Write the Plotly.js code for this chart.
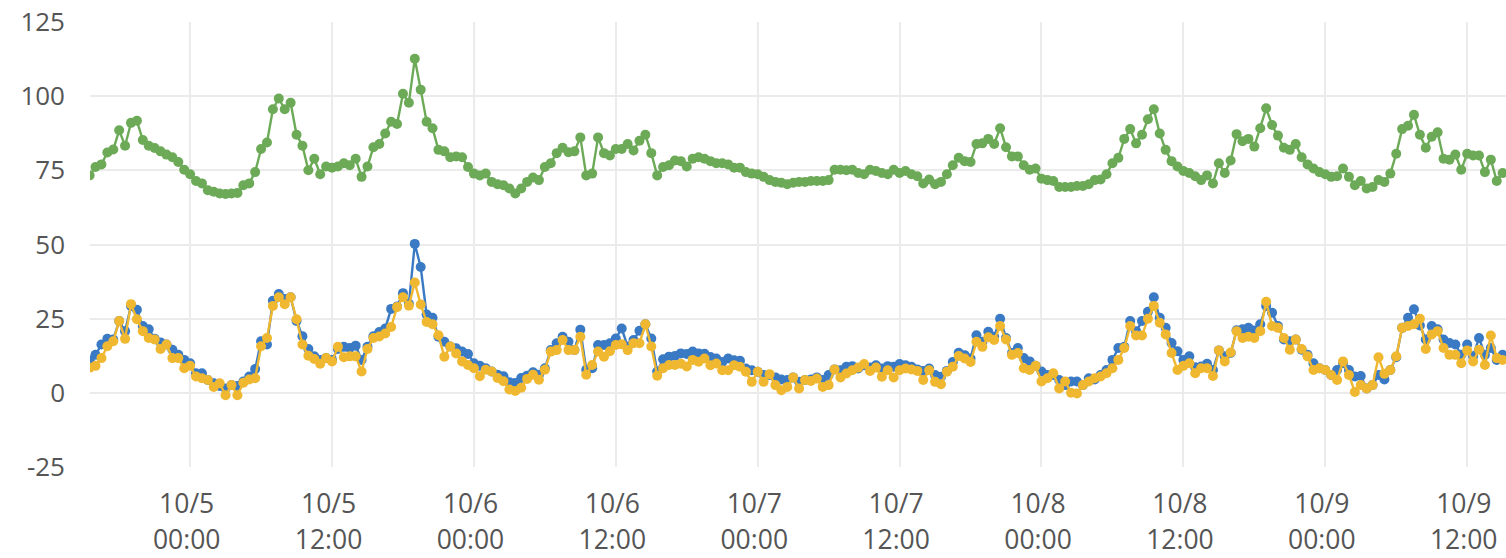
<!DOCTYPE html>
<html><head><meta charset="utf-8">
<script src="https://cdn.plot.ly/plotly-3.0.1.min.js"></script>
<style>html,body{margin:0;padding:0;background:#fff}#chart{width:1506px;height:558px}</style>
</head><body><div id="chart"></div>
<script>
// first sample 10/4 15:30, one sample every 30 minutes
const startTime = [2019, 9, 4, 15, 30];
const stepMinutes = 30;

const green = [
73.3,76.1,77,81,82,88.5,83.3,91,91.7,85.2,
83.3,82.5,81.4,80.3,79.4,77.8,75.2,73.7,71.4,70.6,
68.3,67.8,67.2,67,67.2,67.4,70,70.6,74.4,82.2,
84.4,95.6,99.2,95.6,97.8,87,83.3,75,78.9,73.7,
76.3,75.9,76.3,77.4,76.7,78.9,72.8,76.3,82.8,
83.9,87.4,91.4,90.6,100.8,97.8,112.6,102.2,91.4,89.2,81.9,
81.4,79.4,79.7,79.4,76.1,73.9,73.3,73.9,71.1,70.3,
70,68.9,67.2,68.9,71.1,72.6,71.7,76.1,77.4,80.8,
82.6,81.1,81.4,86.1,73.3,73.9,86.1,80.8,80,82.2,
82.2,83.9,81.7,85,87,80.8,73.3,
76.1,76.7,78.3,
78.1,76.3,78.9,79.4,78.9,78.1,77.4,77.4,77,75.9,
75.9,74.4,73.9,73.7,72.8,71.7,71.1,70.8,70.3,70.8,
71.1,71.1,71.4,71.4,71.4,71.7,75.2,75.2,75,75.2,
74.1,73.7,75.2,74.8,74.1,73.7,75.2,74.1,74.8,73.7,
73,70.6,71.9,70.3,71.1,73.7,
76.7,79.2,78.1,77.8,
83.9,84.1,85.6,83.9,89.2,82.8,79.7,79.7,76.7,75.2,
75.6,72.2,71.7,71.4,69.4,69.4,69.4,69.7,69.7,70.3,
71.7,71.9,73.7,77.4,79.2,85.6,88.9,84.1,87,92.2,
95.6,87.4,81.9,78.1,76.3,74.8,74.1,73,71.7,73.3,
70.6,77.4,74.1,78.3,
87.2,84.8,85.6,83,89.2,95.9,
90.3,86.7,82.6,81.9,83.9,79.4,77,75.6,74.4,73.7,
72.8,73,75.6,72.8,70,71.4,68.9,69.4,71.7,71.1,
73.9,80.6,88.9,90,93.7,87,82.6,86.3,87.8,78.9,
78.6,80.3,75.2,80.6,80,80,74.4,78.6,71.4,74.1
];

const blue = [
11,12.8,16.3,18.2,18,24.2,20.8,29.3,28,22.5,
21.4,18.2,17,16.3,14.5,12.8,11.1,10,6.6,6.6,
4.3,3.2,2.3,1.5,2.6,2.3,3.8,5.5,8,17.4,
16.3,31,33.3,31.6,32.2,24.2,19.1,14.8,12.3,11.1,
11.7,11.1,14.8,15.5,15.1,15.9,11.1,15.5,19.1,
20.5,21.7,28.3,29.1,33.6,30,50.2,42.4,26.4,25.3,18.9,
17.2,15.6,15,13.9,13.1,10,9.1,8.3,7.2,6.1,
5.6,3.6,3.3,5,5.8,6.9,6.1,8.3,14.4,16.7,
18.9,17.2,14.4,21.3,7.8,8.3,16.1,16.1,16.7,18.3,
21.7,15.6,17.8,20.9,23.1,18.3,7.2,11.3,12.2,12.4,
13.3,13.1,13.9,13.3,13.2,
12.1,11.6,10.4,11.6,11,10.8,8.2,7.6,7.1,6,
6,5.2,4.5,4.3,5.2,3.7,4.3,4.5,5.2,4.3,
6,7.9,7.6,8.8,9,8.2,9.3,8.5,9.3,8.2,
9,8.8,9.7,9.3,8.8,7.9,7.4,8.2,6,5.4,
7.4,10.4,13.5,12.7,11.6,19.4,17.2,20.6,18.9,
25,18.5,13.4,15.1,11.7,10.6,9.1,7.2,6,6,
4.3,2.6,3.8,3.8,2.6,4.9,4.5,6,7.7,11.1,
15.1,15.5,24.2,20.8,24.2,27.3,32.2,25.3,21.9,16.8,
14,11.1,12.3,8.6,8.9,9.8,7.7,14.3,12.3,13.4,
21.1,
21.4,21.9,21,23.1,29.3,27,22.5,18,17.4,18,
14.5,12.8,10,8.3,7.7,6,7.7,10,7.7,5.5,
5.7,1.5,2.6,6,4.5,7.7,12,21.9,25.3,28.2,
22.7,18,22.5,21.4,18,16.8,16.3,12.8,16.3,12.3,
18.5,12.8,15.1,11.1,12.8
];

const yellow = [
8.5,9.1,11.7,15.7,17.4,24.2,18.2,29.9,24.8,20.8,
18.5,18,14.8,16.3,11.7,11.7,8.3,9.1,5.5,4.9,
4.3,2,3.2,-0.8,2.6,-0.8,3.4,4.5,4.9,15.7,
18.5,29.3,32.2,29.9,32.2,24.8,16.3,12.5,11.4,9.8,
11.7,10.6,15.5,12,12.3,12.3,7.2,14.8,18.5,
19,20,22.2,28.9,32.2,29.4,37.2,29.8,23.9,23.1,19.4,
12.2,15.6,13.3,10.6,9.4,8.3,5.6,7.8,7.2,5,
3.9,1.1,0.6,1.7,4.7,6.1,4.4,7.8,13.9,14.4,
17.8,14.4,14.4,18.9,6.1,9.4,13.9,12.2,14,16.1,
16.4,14.4,16.7,16.7,23.1,15.6,5.8,8.3,9.4,9.4,
9.8,8.9,11.1,10.5,11.6,
9.3,9.9,7.6,7.6,9.3,8.8,7.1,3.7,7.1,3.7,
6.3,2.6,0.9,2,5.2,1.5,4.3,4,4.8,2,
2.6,7.9,5.2,6.5,7.6,8.5,9.7,7.4,8.5,5.4,
7.6,5.2,7.6,8.2,7.9,7.4,4.3,7.6,3.7,2.9,
7.1,8.8,12.4,11.6,10.4,17.2,15.5,18.7,17.8,
22.5,18,12.8,13.4,8.3,7.7,9.1,3.8,4.9,6.6,
1.5,3.8,0,-0.2,2.6,3.8,4.9,5.5,6.6,8.3,
11.1,15.1,22.5,19.3,19.3,25,29.3,23.6,19.7,13.4,
7.7,9.1,10,6.6,8.3,8.3,5.7,14.3,10.6,13.6,
20.8,
18.5,18.9,18.5,20.8,30.7,22.5,21.9,18.5,14.5,18,
14.8,12.3,7.7,8.3,7.7,6,4.3,10.6,6,0.3,
2.6,1.5,2.6,12,6.4,7.7,12.3,21.9,22.5,23.1,
25,14.8,19.7,20.8,15.1,12.8,12.8,10,14.3,10.6,
14.5,9.4,19.3,11.7,11.1
];

const tickVals = ['2019-10-05 00:00','2019-10-05 12:00','2019-10-06 00:00','2019-10-06 12:00',
  '2019-10-07 00:00','2019-10-07 12:00','2019-10-08 00:00','2019-10-08 12:00',
  '2019-10-09 00:00','2019-10-09 12:00'];
const tickDates = ['10/5','10/5','10/6','10/6','10/7','10/7','10/8','10/8','10/9','10/9'];
const tickTimes = ['00:00','12:00','00:00','12:00','00:00','12:00','00:00','12:00','00:00','12:00'];
const yTicks = [-25, 0, 25, 50, 75, 100, 125];
const xRange = ['2019-10-04 15:32', '2019-10-09 15:17'];
const yRange = [-25, 125];

function makeTimes(n) {
  const t0 = Date.UTC(startTime[0], startTime[1], startTime[2], startTime[3], startTime[4]);
  const out = [];
  for (let i = 0; i < n; i++) {
    out.push(new Date(t0 + i * stepMinutes * 60000).toISOString().slice(0, 16).replace('T', ' '));
  }
  return out;
}

const COLORS = {green: 'rgb(108,170,88)', blue: 'rgb(58,122,196)', yellow: 'rgb(240,184,48)'};
function series(vals, color) {
  return {
    x: makeTimes(vals.length), y: vals, type: 'scatter', mode: 'lines+markers',
    line: {color: color, width: 2.4}, marker: {color: color, size: 10},
    showlegend: false, hoverinfo: 'skip', cliponaxis: true
  };
}

const data = [
  series(green, COLORS.green),
  series(blue, COLORS.blue),
  series(yellow, COLORS.yellow),
  {x: [tickVals[0]], y: [null], xaxis: 'x2', type: 'scatter', mode: 'markers', showlegend: false, hoverinfo: 'skip'}
];

const tickFont = {family: 'Open Sans, sans-serif', size: 26, color: '#555'};
const xFont = {family: 'Open Sans, sans-serif', size: 26.5, color: '#555'};
const gridColor = '#ebebeb';
const layout = {
  width: 1506, height: 558,
  margin: {l: 90, r: 0, t: 22, b: 91},
  paper_bgcolor: '#fff', plot_bgcolor: '#fff',
  font: tickFont,
  xaxis: {
    type: 'date', range: xRange, tickmode: 'array', tickvals: tickVals,
    ticktext: tickDates.map(d => d + '\u00a0'),
    showgrid: true, gridcolor: gridColor, gridwidth: 2, zeroline: false, showline: false,
    ticks: '', tickfont: xFont, ticklabelstandoff: 18, fixedrange: true
  },
  xaxis2: {
    type: 'date', range: xRange, overlaying: 'x', anchor: 'y', side: 'bottom',
    tickmode: 'array', tickvals: tickVals, ticktext: tickTimes.map(t => t + '\u00a0'),
    showgrid: false, zeroline: false, showline: false, ticks: '',
    tickfont: xFont, ticklabelstandoff: 54, fixedrange: true
  },
  yaxis: {
    range: yRange, tickmode: 'array', tickvals: yTicks, ticktext: yTicks.map(String),
    showgrid: true, gridcolor: gridColor, gridwidth: 2, zeroline: false, showline: false,
    ticks: '', tickfont: tickFont, ticklabelstandoff: 24, fixedrange: true
  }
};

Plotly.newPlot('chart', data, layout, {displayModeBar: false, staticPlot: true});
</script>
</body></html>
